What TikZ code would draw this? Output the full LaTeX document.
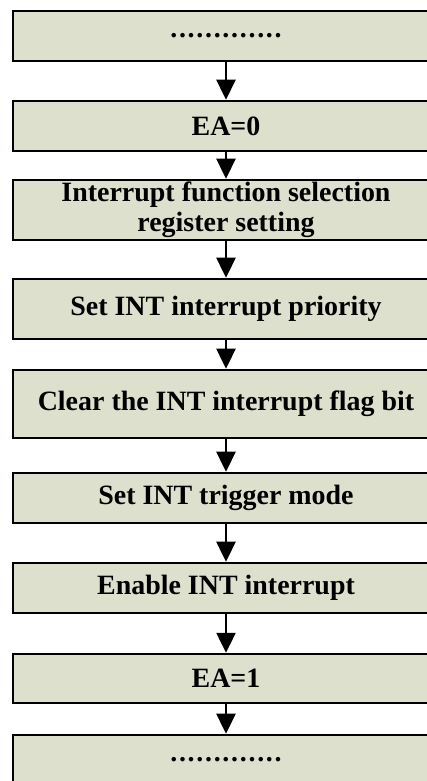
\documentclass[tikz,border=0pt]{standalone}
\usepackage{fontspec}
\setmainfont{Liberation Serif}
\usetikzlibrary{arrows.meta}
\definecolor{stepfill}{RGB}{221,224,204}
\newcommand{\dotrow}{\foreach \d in {1,...,13}{.\kern0.057cm}\kern-0.057cm}
\tikzset{
    stepbox/.style={
        draw, line width=2.4pt, fill=stepfill,
        minimum width=14.2cm, minimum height=1.667cm, inner sep=0pt,
        align=center, font=\fontsize{26.5}{28.4}\selectfont\bfseries
    },
    flow/.style={line width=2.4pt, -{Triangle[length=0.667cm,width=0.633cm]}},
}

\begin{document}
\begin{tikzpicture}
    \useasboundingbox (0,0) rectangle (14.2,-26.033);

    \node[stepbox] (before) at (7.533,-1.2) {\dotrow};
    \node[stepbox] (eaoff) at (7.533,-4.2) {EA=0};
    \node[stepbox, minimum height=2cm] (funcsel) at (7.533,-7.0) {Interrupt function selection\\register setting};
    \node[stepbox, minimum height=2cm] (prio) at (7.533,-10.3) {Set INT interrupt priority};
    \node[stepbox, minimum height=2.267cm] (clrflag) at (7.533,-13.467) {Clear the INT interrupt flag bit};
    \node[stepbox] (trigger) at (7.533,-16.6) {Set INT trigger mode};
    \node[stepbox] (enable) at (7.533,-19.6) {Enable INT interrupt};
    \node[stepbox, minimum height=1.633cm] (eaon) at (7.533,-22.617) {EA=1};
    \node[stepbox] (after) at (7.533,-25.333) {\dotrow};

    \draw[flow] (before) -- (eaoff);
    \draw[flow] (eaoff) -- (funcsel);
    \draw[flow] (funcsel) -- (prio);
    \draw[flow] (prio) -- (clrflag);
    \draw[flow] (clrflag) -- (trigger);
    \draw[flow] (trigger) -- (enable);
    \draw[flow] (enable) -- (eaon);
    \draw[flow] (eaon) -- (after);

\end{tikzpicture}
\end{document}
